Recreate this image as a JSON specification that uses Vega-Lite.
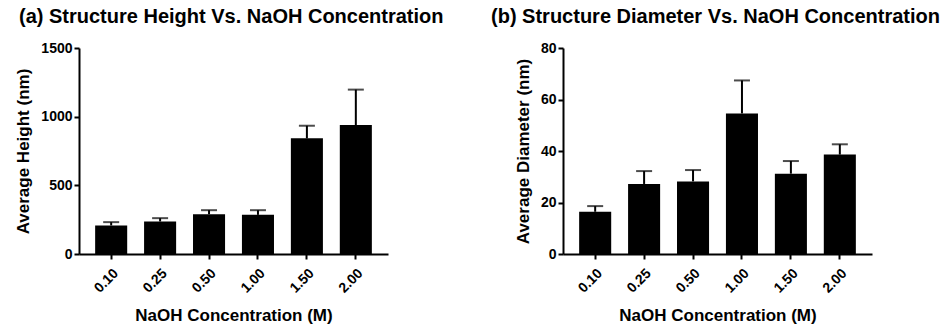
{
  "$schema": "https://vega.github.io/schema/vega-lite/v6.json",
  "padding": {"left": 14, "top": 7, "right": 0, "bottom": 0},
  "autosize": {"type": "pad"},
  "background": "white",
  "spacing": 175,
  "bounds": "flush",
  "config": {
    "font": "Liberation Sans",
    "view": {"stroke": null},
    "axis": {
      "domainColor": "black", "domainWidth": 2, "tickColor": "black", "tickWidth": 2, "tickSize": 5,
      "labelFont": "Liberation Sans", "labelFontWeight": "bold", "labelFontSize": 14, "labelColor": "black",
      "titleFont": "Liberation Sans", "titleFontWeight": "bold", "titleFontSize": 17, "titleColor": "black",
      "grid": false
    },
    "title": {"font": "Liberation Sans", "fontSize": 20, "fontWeight": "bold", "color": "black", "anchor": "start", "frame": "group", "offset": 14}
  },
  "hconcat": [
    {
      "width": 309, "height": 206,
      "title": {"text": "(a) Structure Height Vs. NaOH Concentration", "dx": -60},
      "data": {"values": [
        {"conc": "0.10", "mean": 208, "upper": 232},
        {"conc": "0.25", "mean": 237, "upper": 261},
        {"conc": "0.50", "mean": 290, "upper": 319},
        {"conc": "1.00", "mean": 285, "upper": 319},
        {"conc": "1.50", "mean": 842, "upper": 934},
        {"conc": "2.00", "mean": 939, "upper": 1197}
      ]},
      "encoding": {
        "x": {"field": "conc", "type": "ordinal", "sort": null,
          "scale": {"paddingInner": 0.345, "paddingOuter": 0.33},
          "axis": {"labelAngle": -45, "labelPadding": 7, "title": "NaOH Concentration (M)", "titlePadding": 12}}
      },
      "layer": [
        {"mark": {"type": "bar", "color": "black"},
         "encoding": {"y": {"field": "mean", "type": "quantitative", "scale": {"domain": [0, 1500], "nice": false},
           "axis": {"values": [0, 500, 1000, 1500], "format": "d", "title": "Average Height (nm)", "titlePadding": 8}}}},
        {"mark": {"type": "rule", "strokeWidth": 2, "color": "black"},
         "encoding": {"y": {"field": "mean", "type": "quantitative"}, "y2": {"field": "upper"}}},
        {"mark": {"type": "tick", "color": "black", "thickness": 2, "size": 16},
         "encoding": {"y": {"field": "upper", "type": "quantitative"}}}
      ]
    },
    {
      "width": 309, "height": 206,
      "title": {"text": "(b) Structure Diameter Vs. NaOH Concentration", "dx": -72},
      "data": {"values": [
        {"conc": "0.10", "mean": 16.4, "upper": 18.6},
        {"conc": "0.25", "mean": 27.2, "upper": 32.2},
        {"conc": "0.50", "mean": 28.2, "upper": 32.6},
        {"conc": "1.00", "mean": 54.6, "upper": 67.4},
        {"conc": "1.50", "mean": 31.2, "upper": 36.1},
        {"conc": "2.00", "mean": 38.6, "upper": 42.6}
      ]},
      "encoding": {
        "x": {"field": "conc", "type": "ordinal", "sort": null,
          "scale": {"paddingInner": 0.345, "paddingOuter": 0.33},
          "axis": {"labelAngle": -45, "labelPadding": 7, "title": "NaOH Concentration (M)", "titlePadding": 12}}
      },
      "layer": [
        {"mark": {"type": "bar", "color": "black"},
         "encoding": {"y": {"field": "mean", "type": "quantitative", "scale": {"domain": [0, 80], "nice": false},
           "axis": {"values": [0, 20, 40, 60, 80], "title": "Average Diameter (nm)", "titlePadding": 8}}}},
        {"mark": {"type": "rule", "strokeWidth": 2, "color": "black"},
         "encoding": {"y": {"field": "mean", "type": "quantitative"}, "y2": {"field": "upper"}}},
        {"mark": {"type": "tick", "color": "black", "thickness": 2, "size": 16},
         "encoding": {"y": {"field": "upper", "type": "quantitative"}}}
      ]
    }
  ]
}
